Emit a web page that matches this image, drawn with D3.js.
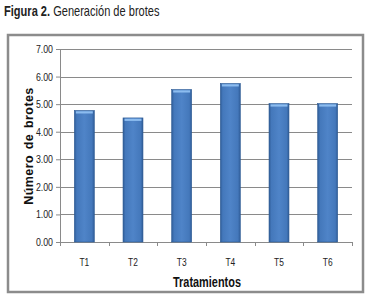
<!DOCTYPE html>
<html><head><meta charset="utf-8">
<script src="https://cdn.jsdelivr.net/npm/d3@7"></script>
<style>body{margin:0;background:#fff}svg{display:block}</style>
</head><body>
<script>
const categories = ["T1","T2","T3","T4","T5","T6"];
const values = [4.77, 4.50, 5.53, 5.75, 5.02, 5.02];
const yTicks = [0,1,2,3,4,5,6,7];

(function(){
const W = 369, H = 297;
const svg = d3.select("body").append("svg").attr("width", W).attr("height", H);
const font = "'Liberation Sans',Arial,sans-serif";
const SX = 0.8;

const defs = svg.append("defs");
const g1 = defs.append("linearGradient").attr("id","barg").attr("x1","0").attr("x2","1").attr("y1","0").attr("y2","0");
g1.append("stop").attr("offset","0").attr("stop-color","#2f5c97");
g1.append("stop").attr("offset","0.12").attr("stop-color","#4478bb");
g1.append("stop").attr("offset","0.5").attr("stop-color","#4f84c8");
g1.append("stop").attr("offset","0.88").attr("stop-color","#4478bb");
g1.append("stop").attr("offset","1").attr("stop-color","#2f5c97");

// title
const t = svg.append("text").attr("transform","translate(4,16) scale(0.79,1)").attr("font-family",font).attr("font-size",14).attr("fill","#222");
t.append("tspan").attr("font-weight","bold").text("Figura 2.");
t.append("tspan").text(" Generación de brotes");

// frame
svg.append("rect").attr("x",8).attr("y",35).attr("width",355).attr("height",257)
  .attr("fill","#fff").attr("stroke","#8c8c8c").attr("stroke-width",2.5);

const pl = 60, pr = 352, pt = 49, pb = 242;
const x = d3.scaleBand().domain(categories).range([pl,pr]).paddingInner(0.59).paddingOuter(0.295);
const xb = d3.scaleBand().domain(categories).range([pl,pr]);
const y = d3.scaleLinear().domain([0,7]).range([pb,pt]);

// gridlines
svg.append("g").selectAll("line").data(yTicks.slice(1)).join("line")
  .attr("x1",pl).attr("x2",pr).attr("y1",d=>Math.round(y(d))+0.5).attr("y2",d=>Math.round(y(d))+0.5)
  .attr("stroke","#8a8a8a").attr("stroke-width",1);

// y axis
const ya = svg.append("g").attr("transform",`translate(${pl},0)`)
  .call(d3.axisLeft(y).tickValues(yTicks).tickFormat(d3.format(".2f")).tickSize(4).tickPadding(3));
ya.select(".domain").attr("stroke","#8a8a8a");
ya.selectAll(".tick line").attr("stroke","#8a8a8a");
ya.selectAll("text").attr("font-family",font).attr("font-size",11).attr("fill","#222")
  .attr("x",-7/SX).attr("transform",`scale(${SX},1)`);

// x axis
const xa = svg.append("g").attr("transform",`translate(0,${pb})`)
  .call(d3.axisBottom(xb).tickSize(0).tickPadding(17));
xa.select(".domain").attr("stroke","#8a8a8a").attr("d",`M${pl},0.5H${pr}`);
xa.selectAll(".tick text").attr("font-family",font).attr("font-size",10.5).attr("fill","#222")
  .attr("transform",`scale(${SX},1)`);
svg.append("g").selectAll("line").data(d3.range(categories.length+1)).join("line")
  .attr("x1",i=>Math.round(pl+i*xb.step())+0.5).attr("x2",i=>Math.round(pl+i*xb.step())+0.5)
  .attr("y1",pb).attr("y2",pb+4).attr("stroke","#8a8a8a");

// bars
const bars = svg.append("g");
bars.selectAll("rect.bar").data(values).join("rect").attr("class","bar")
  .attr("x",(d,i)=>x(categories[i])).attr("width",x.bandwidth())
  .attr("y",d=>y(d)).attr("height",d=>pb-y(d))
  .attr("fill","url(#barg)").attr("stroke","#2c5a94").attr("stroke-width",0.6);
bars.selectAll("rect.cap").data(values).join("rect").attr("class","cap")
  .attr("x",(d,i)=>x(categories[i])+1.5).attr("width",x.bandwidth()-3)
  .attr("y",d=>y(d)+0.8).attr("height",2.2).attr("fill","#8cbcef");

// axis titles
svg.append("text").attr("transform","translate(33,146) rotate(-90)").attr("text-anchor","middle")
  .attr("font-family",font).attr("font-weight","bold").attr("font-size",12.5)
  .attr("letter-spacing",0.4).attr("word-spacing",2)
  .attr("fill","#111").text("Número de brotes");
svg.append("text").attr("transform","translate(207,287) scale(0.78,1)").attr("text-anchor","middle")
  .attr("font-family",font).attr("font-weight","bold").attr("font-size",14)
  .attr("fill","#111").text("Tratamientos");
})();
</script>
</body></html>
